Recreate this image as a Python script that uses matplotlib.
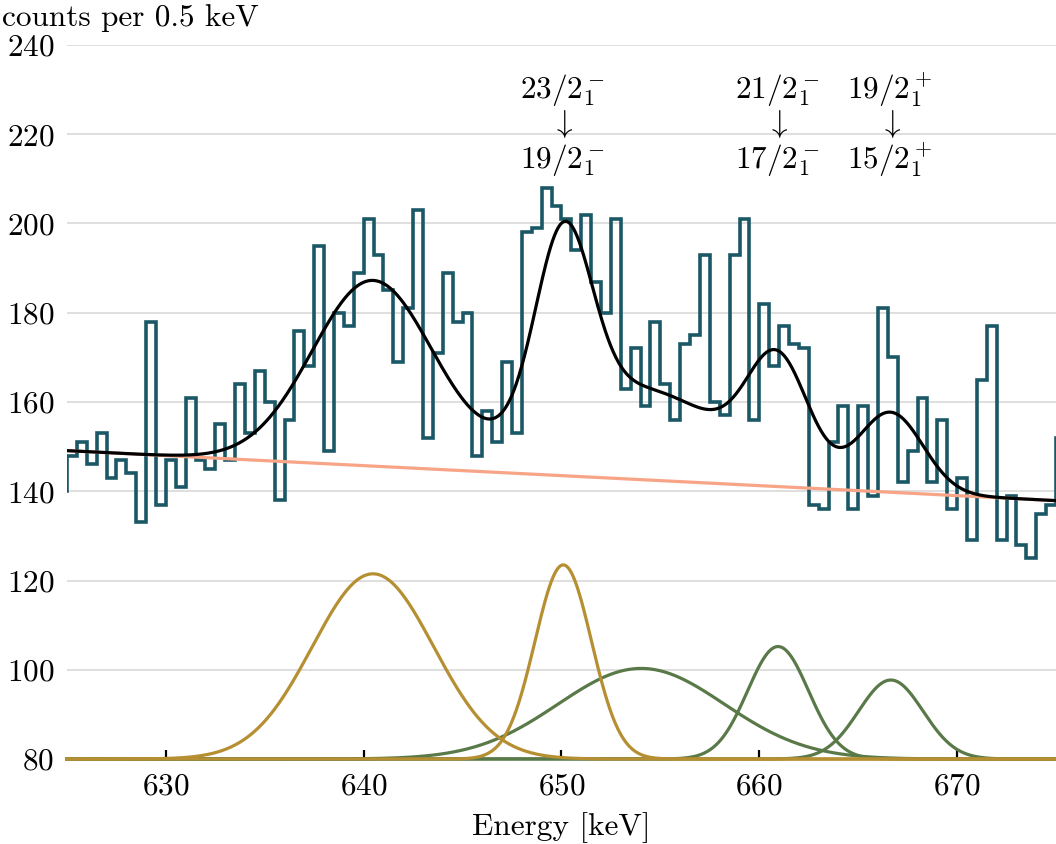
import numpy as np
import matplotlib
matplotlib.use("Agg")
import matplotlib.pyplot as plt

plt.rcParams['font.family'] = 'serif'
plt.rcParams['font.serif'] = ['cmr10']
plt.rcParams['mathtext.fontset'] = 'cm'
plt.rcParams['axes.formatter.use_mathtext'] = True
plt.rcParams['font.size'] = 22.5

# histogram, 0.5 keV bins; first bin 624.5-625 and last 675-675.5 lie outside the view
bin_edges_start = 624.5
bin_width = 0.5
counts = [140,
          148, 151, 146, 153, 143, 147, 144, 133, 178, 137,
          147, 141, 161, 147, 145, 155, 147, 164, 153, 167,
          160, 138, 156, 176, 168, 195, 149, 180, 177, 189,
          201, 193, 185, 169, 181, 203, 152, 171, 189, 178,
          180, 148, 158, 151, 169, 153, 198, 199, 208, 204,
          201, 194, 202, 187, 180, 201, 163, 172, 159, 178,
          164, 156, 173, 175, 193, 160, 157, 193, 201, 156,
          182, 168, 177, 173, 172, 137, 136, 151, 159, 136,
          159, 139, 181, 170, 142, 149, 161, 142, 156, 136,
          143, 129, 165, 177, 129, 139, 128, 125, 135, 137,
          152]

# fit: linear background + gaussians
bg_start = 149.1      # counts at 625 keV
bg_slope = -0.224     # counts per keV
peak_centers = [640.47, 650.09, 654.03, 660.95, 666.65]
peak_amps = [41.5, 43.5, 20.3, 25.2, 17.7]
peak_sigmas = [3.07, 1.43, 4.2, 1.54, 1.63]
peak_kinds = ['gold', 'gold', 'green', 'green', 'green']

labels_x = [650.05, 660.9, 666.6]
labels_top = [r'$23/2^-_1$', r'$21/2^-_1$', r'$19/2^+_1$']
labels_bot = [r'$19/2^-_1$', r'$17/2^-_1$', r'$15/2^+_1$']

colors = {'gold': '#b58f31', 'green': '#5a7949'}

fig = plt.figure(figsize=(10.56, 8.44), dpi=100)
ax = fig.add_axes([0.0634, 0.1007, 0.9366, 0.846])

edges = bin_edges_start + bin_width * np.arange(len(counts) + 1)
ax.stairs(counts, edges, baseline=None, color='#1b5866', lw=2.6, zorder=3)

x = np.linspace(625, 675, 1500)
bg = bg_start + bg_slope * (x - 625)
comps = [a * np.exp(-0.5 * ((x - c) / s) ** 2) for c, a, s in zip(peak_centers, peak_amps, peak_sigmas)]

for kind in ['green', 'gold']:
    for comp, k in zip(comps, peak_kinds):
        if k == kind:
            ax.plot(x, 80 + comp, color=colors[k], lw=2.3, clip_on=False, zorder=4)

ax.plot(x, bg, color='#f8a487', lw=2.3, zorder=4)
ax.plot(x, bg + sum(comps), color='black', lw=2.3, zorder=5)

for lx, top, bot in zip(labels_x, labels_top, labels_bot):
    ax.text(lx, 229.9, top, ha='center', va='center')
    ax.text(lx, 222.3, r'$\downarrow$', ha='center', va='center')
    ax.text(lx, 214.2, bot, ha='center', va='center')

ax.set_xlim(625, 675)
ax.set_ylim(80, 240)
ax.set_xticks([630, 640, 650, 660, 670])
ax.set_yticks(np.arange(80, 241, 20))
ax.grid(axis='y', color='#dcdcdc', lw=1.3)
ax.set_axisbelow(True)
for sp in ax.spines.values():
    sp.set_visible(False)
ax.tick_params(axis='x', direction='in', length=6.5, width=1.6, pad=10)
ax.tick_params(axis='y', length=0, pad=9)
ax.set_xlabel('Energy [keV]', labelpad=8)
fig.text(0.002, 1 - 18 / 844, 'counts per 0.5 keV', ha='left', va='center')

fig.savefig('out.png', dpi=100)
